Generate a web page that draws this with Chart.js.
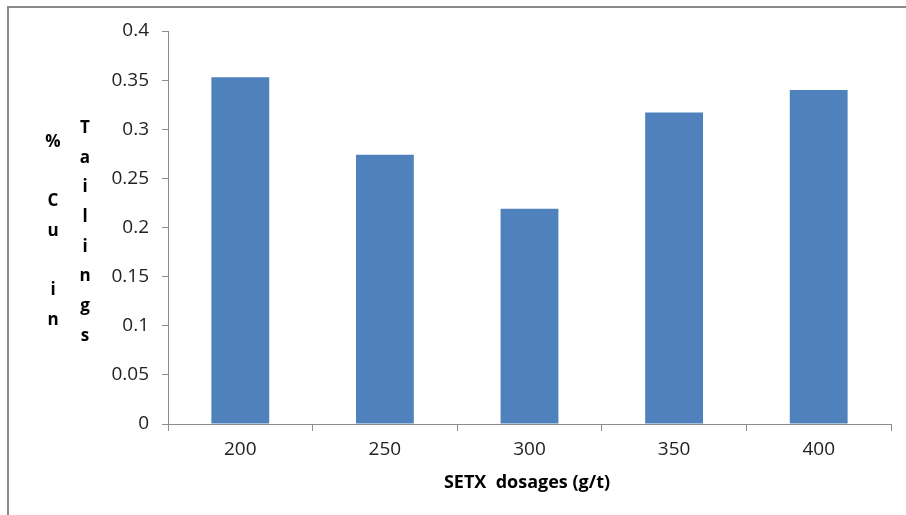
<!DOCTYPE html>
<html>
<head>
<meta charset="utf-8">
<script src="https://cdn.jsdelivr.net/npm/chart.js@4.4.1/dist/chart.umd.min.js"></script>
<style>
  html, body { margin: 0; padding: 0; background: #fff; }
  #wrap { width: 906px; height: 515px; position: relative; }
</style>
</head>
<body>
<div id="wrap"><canvas id="c" width="906" height="515"></canvas></div>
<script>
const dosages = ['200', '250', '300', '350', '400'];
const cuInTailings = [0.353, 0.274, 0.219, 0.317, 0.340];
const yTicks = [0, 0.05, 0.1, 0.15, 0.2, 0.25, 0.3, 0.35, 0.4];
const yTitleCol1 = ['%', '', 'C', 'u', '', 'i', 'n'];
const yTitleCol2 = ['T', 'a', 'i', 'l', 'i', 'n', 'g', 's'];
const xTitle = 'SETX  dosages (g/t)';

const axisGray = '#8c8c8c';
const font = "'Open Sans', 'Liberation Sans', sans-serif";

// frame, stacked y title and x title
const decor = {
    id: 'decor',
    beforeDraw(chart) {
        const ctx = chart.ctx;
        ctx.save();
        ctx.strokeStyle = '#8a8a8a';
        ctx.lineWidth = 2;
        ctx.beginPath();
        ctx.moveTo(8, 515);
        ctx.lineTo(8, 7);
        ctx.lineTo(906, 7);
        ctx.stroke();
        ctx.restore();
    },
    afterDraw(chart) {
        const ctx = chart.ctx;
        ctx.save();
        ctx.fillStyle = '#000';
        ctx.font = "bold 17px " + font;
        ctx.textAlign = 'center';
        ctx.textBaseline = 'middle';
        yTitleCol1.forEach((ch, i) => ctx.fillText(ch, 53, 142 + i * 29.7));
        yTitleCol2.forEach((ch, i) => ctx.fillText(ch, 85, 128 + i * 29.7));
        ctx.font = "bold 18px " + font;
        ctx.fillText(xTitle, 527, 483);
        ctx.restore();
    }
};

new Chart(document.getElementById('c'), {
    type: 'bar',
    data: {
        labels: dosages,
        datasets: [{
            data: cuInTailings,
            backgroundColor: '#4f81bd',
            borderWidth: 0,
            barPercentage: 0.4,
            categoryPercentage: 1.0
        }]
    },
    options: {
        responsive: false,
        animation: false,
        layout: { padding: { top: 31, right: 15, left: 0, bottom: 0 } },
        plugins: { legend: { display: false }, tooltip: { enabled: false } },
        scales: {
            x: {
                grid: { offset: true, drawOnChartArea: false, tickLength: 7, color: axisGray },
                border: { color: axisGray, width: 1 },
                ticks: { color: '#222', font: { family: font, size: 19 }, padding: 7 },
                afterFit: s => { s.height = 515 - 424; }
            },
            y: {
                min: 0,
                max: 0.4,
                afterBuildTicks: s => { s.ticks = yTicks.map(v => ({ value: v })); },
                grid: { drawOnChartArea: false, tickLength: 6, color: axisGray },
                border: { color: axisGray, width: 1 },
                ticks: {
                    color: '#222',
                    font: { family: font, size: 19 },
                    padding: 13,
                    callback: v => String(+v.toFixed(2))
                },
                afterFit: s => { s.width = 168; }
            }
        }
    },
    plugins: [decor]
});
</script>
</body>
</html>
